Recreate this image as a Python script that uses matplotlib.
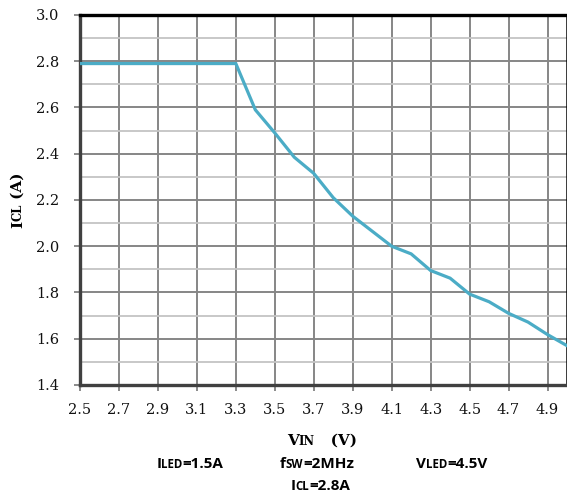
import matplotlib
matplotlib.use("Agg")
import matplotlib.pyplot as plt
from matplotlib.ticker import MultipleLocator
from matplotlib.transforms import IdentityTransform
import numpy as np

# Current limit vs input voltage
vin = [2.5, 2.6, 2.7, 2.8, 2.9, 3.0, 3.1, 3.2, 3.3, 3.4, 3.5, 3.6, 3.7,
       3.8, 3.9, 4.0, 4.1, 4.2, 4.3, 4.4, 4.5, 4.6, 4.7, 4.8, 4.9, 5.0]
icl = [2.79, 2.79, 2.79, 2.79, 2.79, 2.79, 2.79, 2.79, 2.79, 2.59, 2.49,
       2.385, 2.315, 2.21, 2.13, 2.065, 2.0, 1.967, 1.895, 1.862, 1.793,
       1.76, 1.71, 1.672, 1.618, 1.57]
xticks = [2.5, 2.7, 2.9, 3.1, 3.3, 3.5, 3.7, 3.9, 4.1, 4.3, 4.5, 4.7, 4.9]

serif = "DejaVu Serif"
sans = "Open Sans"

fig = plt.figure(figsize=(5.67, 4.96), dpi=100)
ax = fig.add_axes([80 / 567, 1 - 385 / 496, 487 / 567, 370 / 496])

ax.plot(vin, icl, color="#4bacc6", lw=2.3, solid_joinstyle="miter", zorder=3)

ax.set_xlim(2.5, 5.0)
ax.set_ylim(1.4, 3.0)
ax.set_xticks(xticks)
ax.set_xticklabels([f"{v:.1f}" for v in xticks])
ax.yaxis.set_major_locator(MultipleLocator(0.2))
ax.yaxis.set_minor_locator(MultipleLocator(0.1))
ax.yaxis.set_major_formatter(matplotlib.ticker.FormatStrFormatter("%.1f"))

ax.grid(True, which="major", color="#868686", lw=1.4)
ax.grid(True, which="minor", axis="y", color="#c4c4c4", lw=1.3)
ax.set_axisbelow(True)

ax.tick_params(which="major", direction="out", length=4, width=1.2,
               color="#777777", labelsize=10.5, labelcolor="#111111")
ax.tick_params(axis="x", pad=9)
ax.tick_params(axis="y", pad=11)
ax.tick_params(which="minor", length=0)
for lab in ax.get_xticklabels() + ax.get_yticklabels():
    lab.set_family(serif)

ax.spines["top"].set_color("black")
ax.spines["top"].set_linewidth(2.4)
ax.spines["right"].set_color("black")
ax.spines["right"].set_linewidth(1.8)
ax.spines["left"].set_color("#404040")
ax.spines["left"].set_linewidth(2.4)
ax.spines["bottom"].set_color("#404040")
ax.spines["bottom"].set_linewidth(2.4)

renderer = fig.canvas.get_renderer()


def place(parts, cx, cy, family, rot=0):
    # small-caps style labels built from pieces, centred on (cx, cy) in pixels
    texts = [fig.text(0, 0, s, fontsize=fs, family=family, weight="bold",
                      ha="left", va="baseline", rotation=rot,
                      rotation_mode="anchor", transform=IdentityTransform())
             for s, fs in parts]
    sizes = []
    for t in texts:
        bb = t.get_window_extent(renderer)
        sizes.append(bb.width if rot == 0 else bb.height)
    pos = -sum(sizes) / 2
    for t, w in zip(texts, sizes):
        if rot == 0:
            t.set_position((cx + pos, cy))
        else:
            t.set_position((cx, cy + pos))
        pos += w


H = 496
place([("I", 11), ("CL", 8.3), (" (A)", 11)], 22, H - 200, serif, rot=90)
place([("V", 11), ("IN", 8.3), ("   (V)", 11)], 322, H - 445, serif)
place([("I", 11), ("LED", 8.3), ("=1.5A", 11)], 190, H - 467.7, sans)
place([("f", 11), ("SW", 8.3), ("=2MHz", 11)], 317, H - 467.7, sans)
place([("V", 11), ("LED", 8.3), ("=4.5V", 11)], 452, H - 467.7, sans)
place([("I", 11), ("CL", 8.3), ("=2.8A", 11)], 320, H - 490, sans)

fig.savefig("out.png", dpi=100)
